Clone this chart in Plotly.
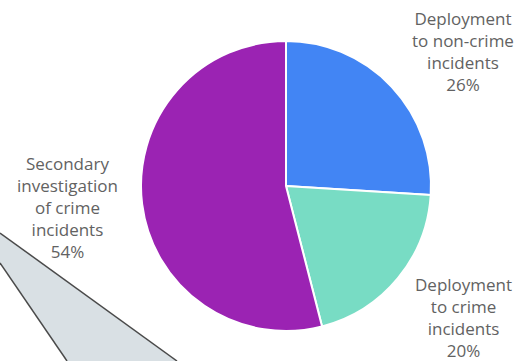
import plotly.graph_objects as go

# Data
categories = ["Deployment<br>to non-crime<br>incidents",
              "Deployment<br>to crime<br>incidents",
              "Secondary<br>investigation<br>of crime<br>incidents"]
values = [26, 20, 54]
colors = ["#4285f4", "#78dcc4", "#9b23b3"]
title_text = "average over 2016"

W, H = 520, 361
cx, cy, d = 286, 186, 290

fig = go.Figure()
fig.add_trace(go.Pie(
    labels=[c.replace("<br>", " ") for c in categories],
    values=values,
    sort=False,
    direction="clockwise",
    rotation=0,
    textinfo="none",
    hoverinfo="label+percent",
    marker=dict(colors=colors, line=dict(color="white", width=2)),
    domain=dict(x=[(cx - d / 2) / W, (cx + d / 2) / W],
                y=[(H - cy - d / 2) / H, (H - cy + d / 2) / H]),
    showlegend=False,
))

# callout shape (decoration)
def px(x, y):
    return x / W, 1 - y / H
p = [px(0, 233), px(177, 361), px(67, 361), px(0, 263)]
path = "M {} {} L {} {} L {} {} L {} {} Z".format(*[v for pt in p for v in pt])
fig.add_shape(type="path", xref="paper", yref="paper", path=path,
              fillcolor="#d9e0e4", line=dict(color="rgba(0,0,0,0)", width=0), layer="below")
for a, b in [(p[0], p[1]), (p[3], p[2])]:
    fig.add_shape(type="line", xref="paper", yref="paper",
                  x0=a[0], y0=a[1], x1=b[0], y1=b[1],
                  line=dict(color="#4a4a4a", width=1.5))

font = dict(family="Open Sans, Liberation Sans, sans-serif", size=17, color="#626262")
label_pos = [(463, 52), (463, 317), (67, 207)]
for cat, val, (x, y) in zip(categories, values, label_pos):
    fig.add_annotation(text=f"{cat}<br>{val}%", x=x / W, y=1 - y / H,
                       xref="paper", yref="paper", showarrow=False,
                       xanchor="center", yanchor="middle", align="center", font=font)

fig.add_annotation(text=f"<b>{title_text}</b>", x=285 / W, y=1 + 3 / H,
                   xref="paper", yref="paper", showarrow=False,
                   xanchor="center", yanchor="bottom",
                   font=dict(family="Liberation Sans, sans-serif", size=17, color="#222"))

fig.update_layout(width=W, height=H, margin=dict(l=0, r=0, t=0, b=0),
                  paper_bgcolor="white", plot_bgcolor="white")
fig.write_html("out.html", config={"displayModeBar": False},
               post_script="document.body.style.margin='0';")
